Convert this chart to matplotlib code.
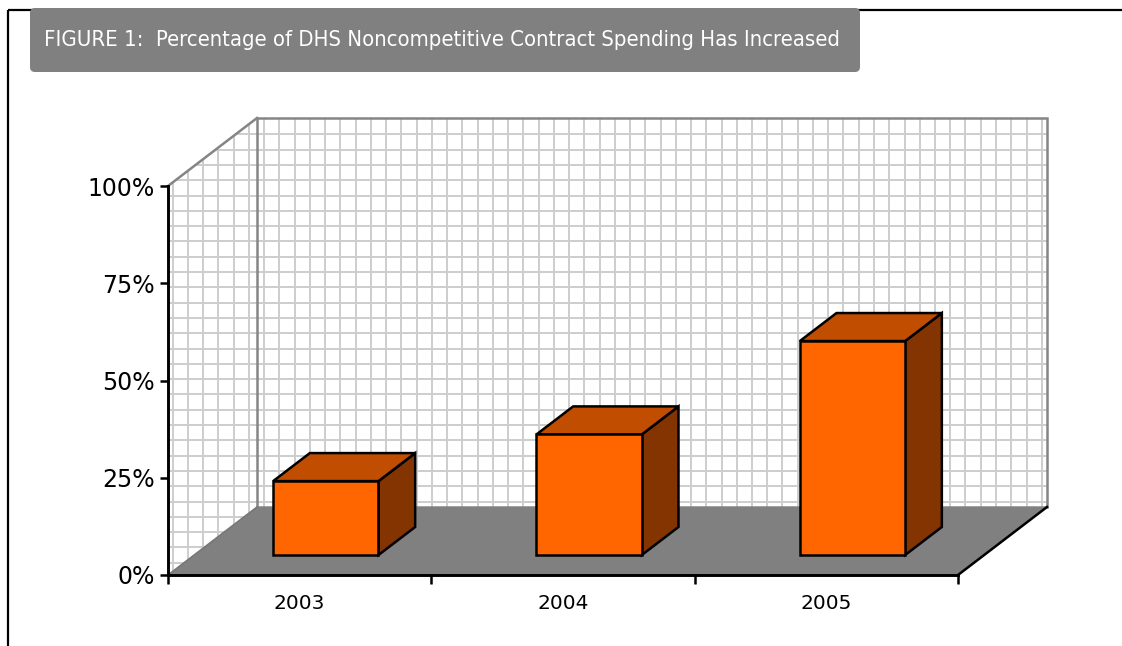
import matplotlib
matplotlib.use("Agg")
import matplotlib.pyplot as plt
from matplotlib.patches import Polygon, FancyBboxPatch
from matplotlib.collections import LineCollection
import numpy as np

# ---------------- data ----------------
categories = ["2003", "2004", "2005"]
values = [19, 31, 55]          # % of DHS contract spending that was noncompetitive
y_ticks = [0, 25, 50, 75, 100]
y_tick_labels = ["0%", "25%", "50%", "75%", "100%"]
title = "FIGURE 1:  Percentage of DHS Noncompetitive Contract Spending Has Increased"

# ---------------- layout / style ----------------
W, H, DPI = 1122, 646, 100
AX_L, AX_R, AX_B, AX_T = 168, 958, 575, 186      # front plane in pixels
DEPTH_PX = (89, 68)                                # oblique depth offset in pixels
BAR_W = 0.4
BAR_F0, BAR_F1 = 0.294, 0.706                      # bar depth span (fraction of depth)
GRID_PX = 15.25
FRONT, TOP, SIDE = "#FF6600", "#C04D00", "#843400"
WALL_EDGE = "#858585"
FLOOR = "#808080"
GRID_C = "#cdcdcd"

fig = plt.figure(figsize=(W / DPI, H / DPI), dpi=DPI)
fig.patch.set_facecolor("white")

# overlay in pixel coordinates for frame + title box
ov = fig.add_axes([0, 0, 1, 1], zorder=0)
ov.set_xlim(0, W)
ov.set_ylim(H, 0)
ov.axis("off")
ov.plot([8.5, 8.5], [9.5, H], color="black", lw=1.6, solid_capstyle="butt")
ov.plot([7.7, W], [10, 10], color="black", lw=1.6, solid_capstyle="butt")
ov.add_patch(FancyBboxPatch((30, 8), 830, 64, boxstyle="round,pad=0,rounding_size=5",
                            fc="#808080", ec="none", zorder=3))
ov.text(44, 40, title, color="white", fontsize=15.8, va="center", ha="left",
        fontstretch="condensed", zorder=4)

# main axes = front plane of the 3-D chart
ax = fig.add_axes([AX_L / W, (H - AX_B) / H, (AX_R - AX_L) / W, (AX_B - AX_T) / H], zorder=1)
n = len(categories)
ax.set_xlim(0, n)
ax.set_ylim(0, 100)
ax.patch.set_visible(False)

px_per_x = (AX_R - AX_L) / n
px_per_y = (AX_B - AX_T) / 100.0
Dx = DEPTH_PX[0] / px_per_x
Dy = DEPTH_PX[1] / px_per_y


def P(x, y, f):
    """project (category-x, value-y, depth fraction f) into front-plane data coords"""
    return (x + f * Dx, y + f * Dy)


# walls
left_wall = Polygon([P(0, 0, 0), P(0, 100, 0), P(0, 100, 1), P(0, 0, 1)],
                    closed=True, fc="white", ec="none", zorder=0.5, clip_on=False)
back_wall = Polygon([P(0, 0, 1), P(0, 100, 1), P(n, 100, 1), P(n, 0, 1)],
                    closed=True, fc="white", ec="none", zorder=0.5, clip_on=False)
ax.add_patch(left_wall)
ax.add_patch(back_wall)

# grid pattern (screen-space pattern fill)
gx = GRID_PX / px_per_x
gy = 15.3 / px_per_y
xs = np.arange(4.5 / px_per_x, n + Dx, gx)
ys = np.arange((AX_B - 134.3) / px_per_y, -gy, -gy)
ys = ys[ys > 0]
segs = [[(x, 0), (x, 100 + Dy)] for x in xs] + [[(0, y), (n + Dx, y)] for y in ys]
for wall in (left_wall, back_wall):
    lc = LineCollection(segs, colors=GRID_C, linewidths=1.4, zorder=0.6)
    ax.add_collection(lc, autolim=False)
    lc.set_clip_box(None)
    lc.set_clip_path(wall)

# wall outlines
ax.add_patch(Polygon([P(0, 0, 1), P(0, 100, 1), P(n, 100, 1), P(n, 0, 1)], closed=True,
                     fc="none", ec=WALL_EDGE, lw=1.8, zorder=0.7, clip_on=False))
ax.plot(*zip(P(0, 100, 0), P(0, 100, 1)), color=WALL_EDGE, lw=1.8, zorder=0.7, clip_on=False)

# floor
ax.add_patch(Polygon([P(0, 0, 0), P(n, 0, 0), P(n, 0, 1), P(0, 0, 1)], closed=True,
                     fc=FLOOR, ec="none", zorder=0.8, clip_on=False))
ax.plot(*zip(P(0, 0, 0), P(0, 0, 1)), color="#777777", lw=1.2, zorder=0.9, clip_on=False)
ax.plot(*zip(P(n, 0, 0), P(n, 0, 1)), color="black", lw=1.8, zorder=0.9, clip_on=False)

# bars
for i, v in enumerate(values):
    x0 = i + 0.5 - BAR_W / 2
    x1 = i + 0.5 + BAR_W / 2
    side = [P(x1, 0, BAR_F0), P(x1, 0, BAR_F1), P(x1, v, BAR_F1), P(x1, v, BAR_F0)]
    top = [P(x0, v, BAR_F0), P(x1, v, BAR_F0), P(x1, v, BAR_F1), P(x0, v, BAR_F1)]
    front = [P(x0, 0, BAR_F0), P(x1, 0, BAR_F0), P(x1, v, BAR_F0), P(x0, v, BAR_F0)]
    for pts, c in ((side, SIDE), (top, TOP), (front, FRONT)):
        ax.add_patch(Polygon(pts, closed=True, fc=c, ec="black", lw=1.8,
                             joinstyle="miter", zorder=3, clip_on=False))

# axes lines and ticks
for s in ("top", "right"):
    ax.spines[s].set_visible(False)
for s in ("left", "bottom"):
    ax.spines[s].set_color("black")
    ax.spines[s].set_linewidth(2.1)
    ax.spines[s].set_zorder(2.5)

ax.set_yticks(y_ticks, y_tick_labels)
ax.tick_params(axis="y", direction="out", length=5.8, width=1.8, labelsize=17, pad=3.6,
               colors="black")
ax.set_xticks(range(n + 1), [""] * (n + 1))
ax.set_xticks([i + 0.5 for i in range(n)], categories, minor=True)
ax.tick_params(axis="x", which="major", direction="out", length=6.5, width=1.8)
ax.tick_params(axis="x", which="minor", length=0, labelsize=14.5, pad=14)

fig.savefig("out.png", dpi=DPI, facecolor="white")
